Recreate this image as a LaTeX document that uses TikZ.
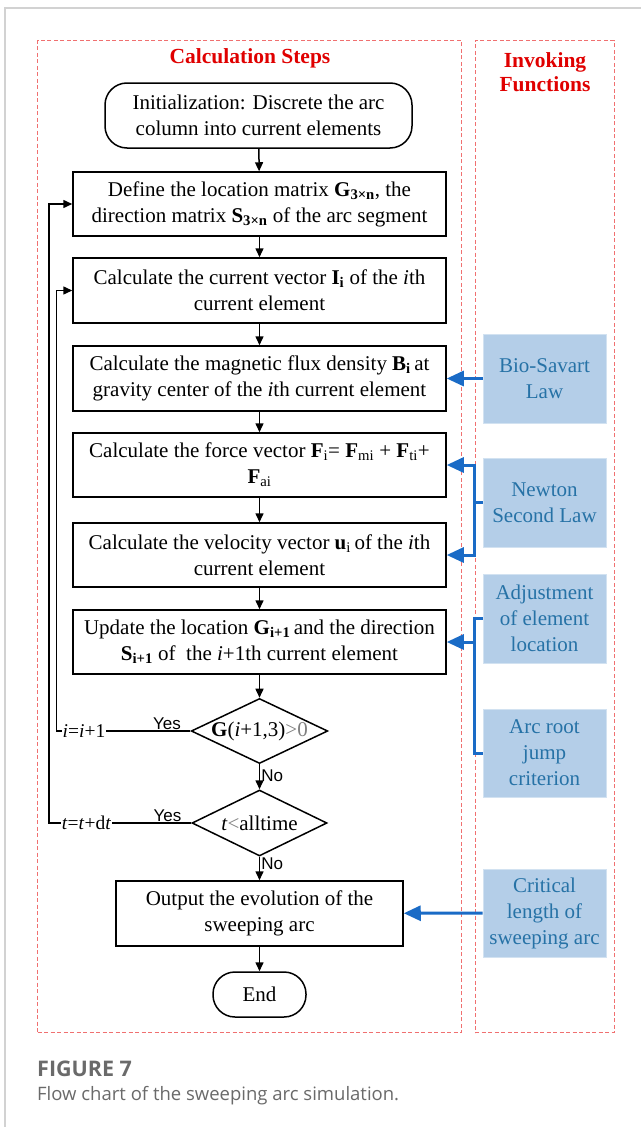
\documentclass[tikz,border=0pt]{standalone}
\usepackage{fontspec}
\setmainfont{Liberation Serif}
\newfontfamily\arialf{Liberation Sans}
\newfontfamily\capfont{Open Sans}
\usetikzlibrary{arrows.meta,shapes.geometric}
\definecolor{dashred}{HTML}{F07070}
\definecolor{titlered}{HTML}{E00000}
\definecolor{boxblue}{HTML}{B4CEE8}
\definecolor{txtblue}{HTML}{2672A6}
\definecolor{arrblue}{HTML}{1A6BC6}
\definecolor{capgray}{HTML}{6A6A6A}
\begin{document}
\begin{tikzpicture}[x=1pt,y=-1pt,
  txt/.style={font=\fontsize{21}{26}\selectfont},
  stepbox/.style={txt,draw,line width=1.5pt,minimum width=373pt,minimum height=64pt,align=center,inner sep=0pt},
  termbox/.style={txt,draw,line width=1.5pt,rounded corners=22pt,align=center,inner sep=0pt},
  decbox/.style={txt,draw,line width=1.5pt,diamond,aspect=2.1,minimum width=135pt,minimum height=66pt,inner sep=0pt},
  funbox/.style={txt,fill=boxblue,draw=boxblue!60!white,line width=0.8pt,text=txtblue,minimum width=123pt,minimum height=89pt,align=center,inner sep=0pt},
  arr/.style={line width=1.5pt,-{Triangle[length=9pt,width=8pt]}},
  bline/.style={line width=3pt,arrblue},
  barr/.style={line width=3pt,arrblue,-{Triangle[length=17pt,width=15pt]}},
  lab/.style={font=\arialf\fontsize{17}{19}\selectfont,inner sep=1pt},
  panel/.style={draw=dashred,dashed,line width=0.8pt,dash pattern=on 4pt off 2.5pt},
  ttl/.style={font=\fontsize{21.5}{24}\selectfont\bfseries,text=titlered,align=center}
]
\useasboundingbox (0,0) rectangle (641,1127);
\fill[white] (0,0) rectangle (641,1127);
\draw[gray!35,line width=1.2pt] (5,1127) -- (5,8) -- (641,8);

% panels
\node[panel,minimum width=424pt,minimum height=992pt,inner sep=0] (lp) at (249.5,536.5) {};
\node[panel,minimum width=139pt,minimum height=992pt,inner sep=0] (rp) at (544.5,536.5) {};
\node[ttl] (t1) at (250,58) {Calculation Steps};
\node[ttl] (t2) at (545,72) {Invoking\\Functions};

% main column
\node[termbox,minimum width=307pt,minimum height=65pt] (init) at (258.5,115.5) {Initialization: Discrete the arc\\column into current elements};
\node[stepbox] (define) at (259.5,204) {Define the location matrix \textbf{G\textsubscript{3×n}}, the\\direction matrix \textbf{S\textsubscript{3×n}} of the arc segment};
\node[stepbox,minimum height=65pt] (current) at (259.5,290.5) {Calculate the current vector \textbf{I\textsubscript{i}} of the \textit{i}th\\current element};
\node[stepbox,minimum height=65pt] (flux) at (259.5,378.5) {Calculate the magnetic flux density \textbf{B\textsubscript{i}}\,at\\gravity center of the \textit{i}th current element};
\node[stepbox] (force) at (259.5,465) {Calculate the force vector \textbf{F}\textsubscript{i}= \textbf{F}\textsubscript{mi} + \textbf{F}\textsubscript{ti}+\\\textbf{F}\textsubscript{ai}};
\node[stepbox] (velocity) at (259.5,555) {Calculate the velocity vector \textbf{u}\textsubscript{i}\,of the \textit{i}th\\current element};
\node[stepbox] (update) at (259.5,642) {Update the location \textbf{G\textsubscript{i+1}}\,and the direction\\\textbf{S\textsubscript{i+1}} of~ the \textit{i}+1th current element};
\node[decbox,minimum height=64pt] (d1) at (259.5,731) {\textbf{G}(\textit{i}+1,3)\textcolor{gray}{>0}};
\node[decbox] (d2) at (259.5,823) {\textit{t}\textcolor{gray}{<}alltime};
\node[stepbox,minimum width=287pt,minimum height=65pt] (output) at (259.5,913.5) {Output the evolution of the\\sweeping arc};
\node[termbox,minimum width=93pt,minimum height=45pt] (end) at (259.5,994.5) {End};

\draw[arr] (init) -- (define);
\draw[arr] (define) -- (current);
\draw[arr] (current) -- (flux);
\draw[arr] (flux) -- (force);
\draw[arr] (force) -- (velocity);
\draw[arr] (velocity) -- (update);
\draw[arr] (update) -- (d1);
\draw[arr] (d1) -- node[lab,right,pos=0.45] {No} (d2);
\draw[arr] (d2) -- node[lab,right,pos=0.3] {No} (output);
\draw[arr] (output) -- (end);

% loops
\node[txt,font=\fontsize{19.5}{22}\selectfont,inner sep=1pt] (ii) at (84,731) {\textit{i}=\textit{i}+1};
\node[txt,font=\fontsize{19.5}{22}\selectfont,inner sep=1pt] (tt) at (86.5,823) {\textit{t}=\textit{t}+d\textit{t}};
\draw[line width=1.5pt] (d1.west) -- node[lab,above,pos=0.28] {Yes} (ii.east);
\draw[line width=1.5pt] (d2.west) -- node[lab,above,pos=0.3] {Yes} (tt.east);
\coordinate (c1) at (56.5,731);
\coordinate (c2) at (49,823);
\draw[arr] (ii.west) -- (c1) |- (current.west);
\draw[arr] (tt.west) -- (c2) |- (define.west);

% functions
\node[funbox] (bio) at (544.5,378.5) {Bio-Savart\\Law};
\node[funbox] (newton) at (544.5,502.5) {Newton\\Second Law};
\node[funbox] (adjust) at (544.5,618.5) {Adjustment\\of element\\location};
\node[funbox,minimum height=88pt] (root) at (544.5,753) {Arc root\\jump\\criterion};
\node[funbox,minimum height=88pt] (crit) at (544.5,913) {Critical\\length of\\sweeping arc};

\draw[barr] (bio) -- (flux);
\coordinate (nb) at (474,502.5);
\draw[bline] (newton.west) -- (nb);
\draw[barr] (nb) |- (force.east);
\draw[barr] (nb) |- (velocity.east);
\coordinate (ab) at (474,618.5);
\coordinate (rb) at (474,753);
\draw[bline] (adjust.west) -- (ab) -- (rb) -- (root.west);
\coordinate (ua) at (474,642);
\draw[barr] (ua) -- (update.east);
\draw[barr] (crit) -- (output);

% caption
\node[anchor=base west,inner sep=0,font=\capfont\bfseries\fontsize{21.5}{24}\selectfont,text=capgray] (fig) at (37,1076) {FIGURE 7};
\node[anchor=base west,inner sep=0,font=\capfont\fontsize{18.5}{22}\selectfont,text=capgray] (cap) at (37,1100) {Flow chart of the sweeping arc simulation.};
\end{tikzpicture}
\end{document}
